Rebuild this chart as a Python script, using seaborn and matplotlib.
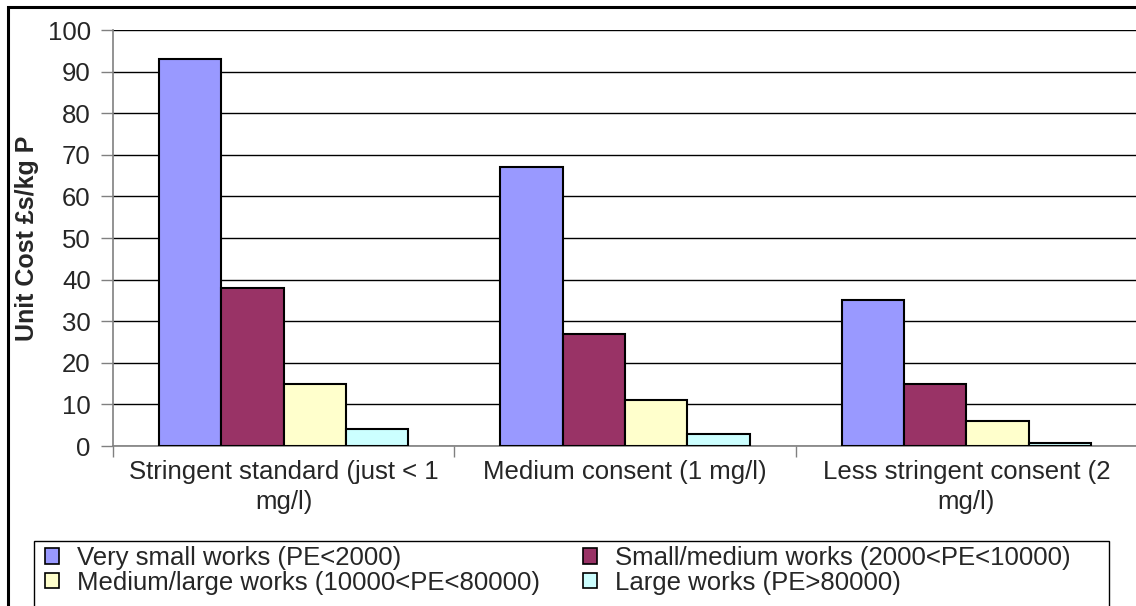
import numpy as np
import pandas as pd
import matplotlib
matplotlib.use("Agg")
import matplotlib.pyplot as plt
from matplotlib.patches import Rectangle, Patch
import seaborn as sns

# Phosphorus removal unit costs by consent standard and works size
standards = [
    "Stringent standard (just < 1\nmg/l)",
    "Medium consent (1 mg/l)",
    "Less stringent consent (2\nmg/l)",
]
works = [
    "Very small works (PE<2000)",
    "Small/medium works (2000<PE<10000)",
    "Medium/large works (10000<PE<80000)",
    "Large works (PE>80000)",
]
very_small = [93, 67, 35]
small_medium = [38, 27, 15]
medium_large = [15, 11, 6]
large = [4, 3, 0.8]
colors = ["#9999FF", "#993366", "#FFFFCC", "#CCFFFF"]

series = [very_small, small_medium, medium_large, large]
df = pd.DataFrame({
    "standard": np.repeat([standards], len(works), axis=0).ravel(),
    "works": np.repeat(works, len(standards)),
    "cost": np.concatenate(series),
})

sns.set_style("white")
plt.rcParams["font.family"] = ["Liberation Sans", "DejaVu Sans"]
FS = 18.5

fig = plt.figure(figsize=(11.36, 6.06), dpi=100)
ax = fig.add_axes([113 / 1136, 1 - 446 / 606, 1 - 113 / 1136 + 0.001, (446 - 30) / 606])

sns.barplot(data=df, x="standard", y="cost", hue="works", order=standards,
            hue_order=works, palette=colors, edgecolor="black", linewidth=1.5,
            width=0.73, gap=0, saturation=1, legend=False, ax=ax, zorder=3)

ax.set_xlim(-0.5, 2.5)
ax.set_ylim(0, 100)
ax.set_yticks(np.arange(0, 101, 10))
ax.yaxis.grid(True, color="black", linewidth=1.0, zorder=0)
ax.set_axisbelow(True)
for s in ["top", "right"]:
    ax.spines[s].set_visible(False)
for s in ["left", "bottom"]:
    ax.spines[s].set_color("#808080")
    ax.spines[s].set_linewidth(1.2)

ax.tick_params(axis="y", direction="out", length=9, width=1, color="#808080",
               labelsize=FS, pad=7, left=True)
ax.set_xticks([0, 1, 2])
ax.set_xticklabels(standards, fontsize=FS, linespacing=1.3)
ax.tick_params(axis="x", which="major", length=0, pad=10)
ax.set_xticks([-0.5, 0.5, 1.5, 2.5], minor=True)
ax.tick_params(axis="x", which="minor", direction="out", length=8, width=1,
               color="#808080", bottom=True)

ax.set_xlabel("")
ax.set_ylabel("Unit Cost £s/kg P", fontsize=18, fontweight="bold", labelpad=6)

# Outer chart frame
fig.patches.append(Rectangle((8 / 1136, -0.1), 1.2, 1 - 7 / 606 + 0.1,
                             transform=fig.transFigure, fill=False,
                             edgecolor="black", linewidth=2.2, zorder=10))
# Legend box
fig.patches.append(Rectangle((34 / 1136, -0.1), (1109 - 34) / 1136, 1 - 541 / 606 + 0.1,
                             transform=fig.transFigure, fill=False,
                             edgecolor="black", linewidth=1.0, zorder=10))

handles = [Patch(facecolor=c, edgecolor="black", linewidth=1.2) for c in colors]
order = [0, 2, 1, 3]
leg = fig.legend([handles[i] for i in order], [works[i] for i in order],
                 ncol=2, loc="upper left",
                 bbox_to_anchor=(45 / 1136, 1 - 546 / 606),
                 frameon=False, fontsize=FS,
                 handlelength=0.55, handleheight=0.55, handletextpad=0.7,
                 labelspacing=0.02, borderpad=0, borderaxespad=0,
                 columnspacing=1.65)

fig.savefig("out.png", dpi=100)
